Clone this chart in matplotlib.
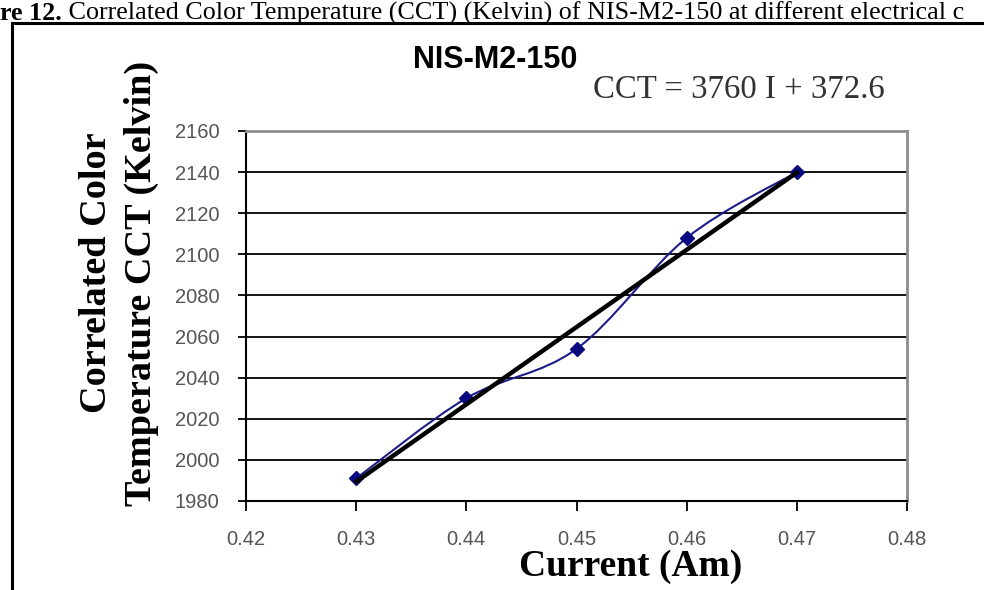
import matplotlib
matplotlib.use('Agg')
import matplotlib.pyplot as plt
from matplotlib.path import Path
from matplotlib.patches import PathPatch
from matplotlib.lines import Line2D
import numpy as np

# data
current = [0.43, 0.44, 0.45, 0.46, 0.47]
cct = [1991, 2030, 2054, 2108, 2140]
fit_slope = 3760
fit_intercept = 372.6
xticks = [0.42, 0.43, 0.44, 0.45, 0.46, 0.47, 0.48]
yticks = [1980, 2000, 2020, 2040, 2060, 2080, 2100, 2120, 2140, 2160]

title = "NIS-M2-150"
equation = "CCT = 3760 I + 372.6"
caption_bold = "re 12."
caption_rest = " Correlated Color Temperature (CCT) (Kelvin) of NIS-M2-150 at different electrical c"

serif = ['Liberation Serif', 'DejaVu Serif']
sans = ['Liberation Sans', 'DejaVu Sans']


def smooth_path(xs, ys):
    # Excel-like smoothed line: Catmull-Rom as cubic Bezier segments
    pts = np.column_stack([xs, ys]).astype(float)
    n = len(pts)
    verts = [pts[0]]
    codes = [Path.MOVETO]
    for i in range(n - 1):
        p0 = pts[i - 1] if i > 0 else pts[i]
        p1 = pts[i]
        p2 = pts[i + 1]
        p3 = pts[i + 2] if i + 2 < n else pts[i + 1]
        c1 = p1 + (p2 - p0) / 6.0
        c2 = p2 - (p3 - p1) / 6.0
        verts += [c1, c2, p2]
        codes += [Path.CURVE4] * 3
    return Path(verts, codes)


fig = plt.figure(figsize=(9.84, 5.9), dpi=100)
W, H = 984, 590
ax = fig.add_axes([246 / W, 1 - 501 / H, 661 / W, 370 / H])

ax.set_xlim(0.42, 0.48)
ax.set_ylim(1980, 2160)
ax.set_xticks(xticks)
ax.set_yticks(yticks)
ax.set_xticklabels([f"{v:.2f}" for v in xticks])
ax.set_yticklabels([str(v) for v in yticks])

ax.yaxis.grid(True, color='black', linewidth=1.3)
ax.set_axisbelow(True)

for side in ['top', 'right']:
    ax.spines[side].set_color('#8c8c8c')
    ax.spines[side].set_linewidth(2)
for side in ['left', 'bottom']:
    ax.spines[side].set_color('black')
    ax.spines[side].set_linewidth(1.5)

ax.tick_params(axis='y', direction='out', length=6, width=1.3, pad=13,
               labelsize=14.5, labelcolor='#555555')
ax.tick_params(axis='x', direction='out', length=7, width=1.3, pad=14,
               labelsize=14.5, labelcolor='#555555')
for lab in ax.get_xticklabels() + ax.get_yticklabels():
    lab.set_family(sans)

# smoothed data line + markers
ax.add_patch(PathPatch(smooth_path(current, cct), facecolor='none',
                       edgecolor='#1c1c8a', linewidth=1.5, zorder=3))
ax.plot(current, cct, linestyle='none', marker='D', markersize=7,
        color='#0a0a80', zorder=4)

# linear trend line
fit_x = np.array([current[0], current[-1]])
ax.plot(fit_x, fit_slope * fit_x + fit_intercept, color='black',
        linewidth=3.2, zorder=5)

# titles and labels
fig.text(495 / W, 1 - 60 / H, title, ha='center', va='center',
         fontsize=22, fontweight='bold', family=sans)
fig.text(739 / W, 1 - 98 / H, equation, ha='center', va='baseline',
         fontsize=23.7, color='#333333', family=serif)
fig.text(631 / W, 1 - 567 / H, "Current (Am)", ha='center', va='center',
         fontsize=27, fontweight='bold', family=serif)
fig.text(96 / W, 1 - 273 / H, "Correlated Color", ha='center', va='center',
         rotation=90, fontsize=27.5, fontweight='bold', family=serif)
fig.text(141 / W, 1 - 283 / H, "Temperature CCT (Kelvin)", ha='center',
         va='center', rotation=90, fontsize=27.5, fontweight='bold', family=serif)

# caption at the top of the page
t1 = fig.text(0, 1 - 20 / H, caption_bold, ha='left', va='baseline',
              fontsize=18.8, fontweight='bold', family=serif)
ax.annotate(caption_rest, xy=(1, 0), xycoords=t1, ha='left', va='bottom',
            fontsize=18.8, family=serif, annotation_clip=False)

# page frame
fig.add_artist(Line2D([12 / W, 12 / W], [0, 1 - 23 / H], color='black',
                      linewidth=2.2, transform=fig.transFigure))
fig.add_artist(Line2D([12 / W, 1], [1 - 23 / H, 1 - 23 / H], color='black',
                      linewidth=2.2, transform=fig.transFigure))

fig.savefig('out.png', dpi=100)
